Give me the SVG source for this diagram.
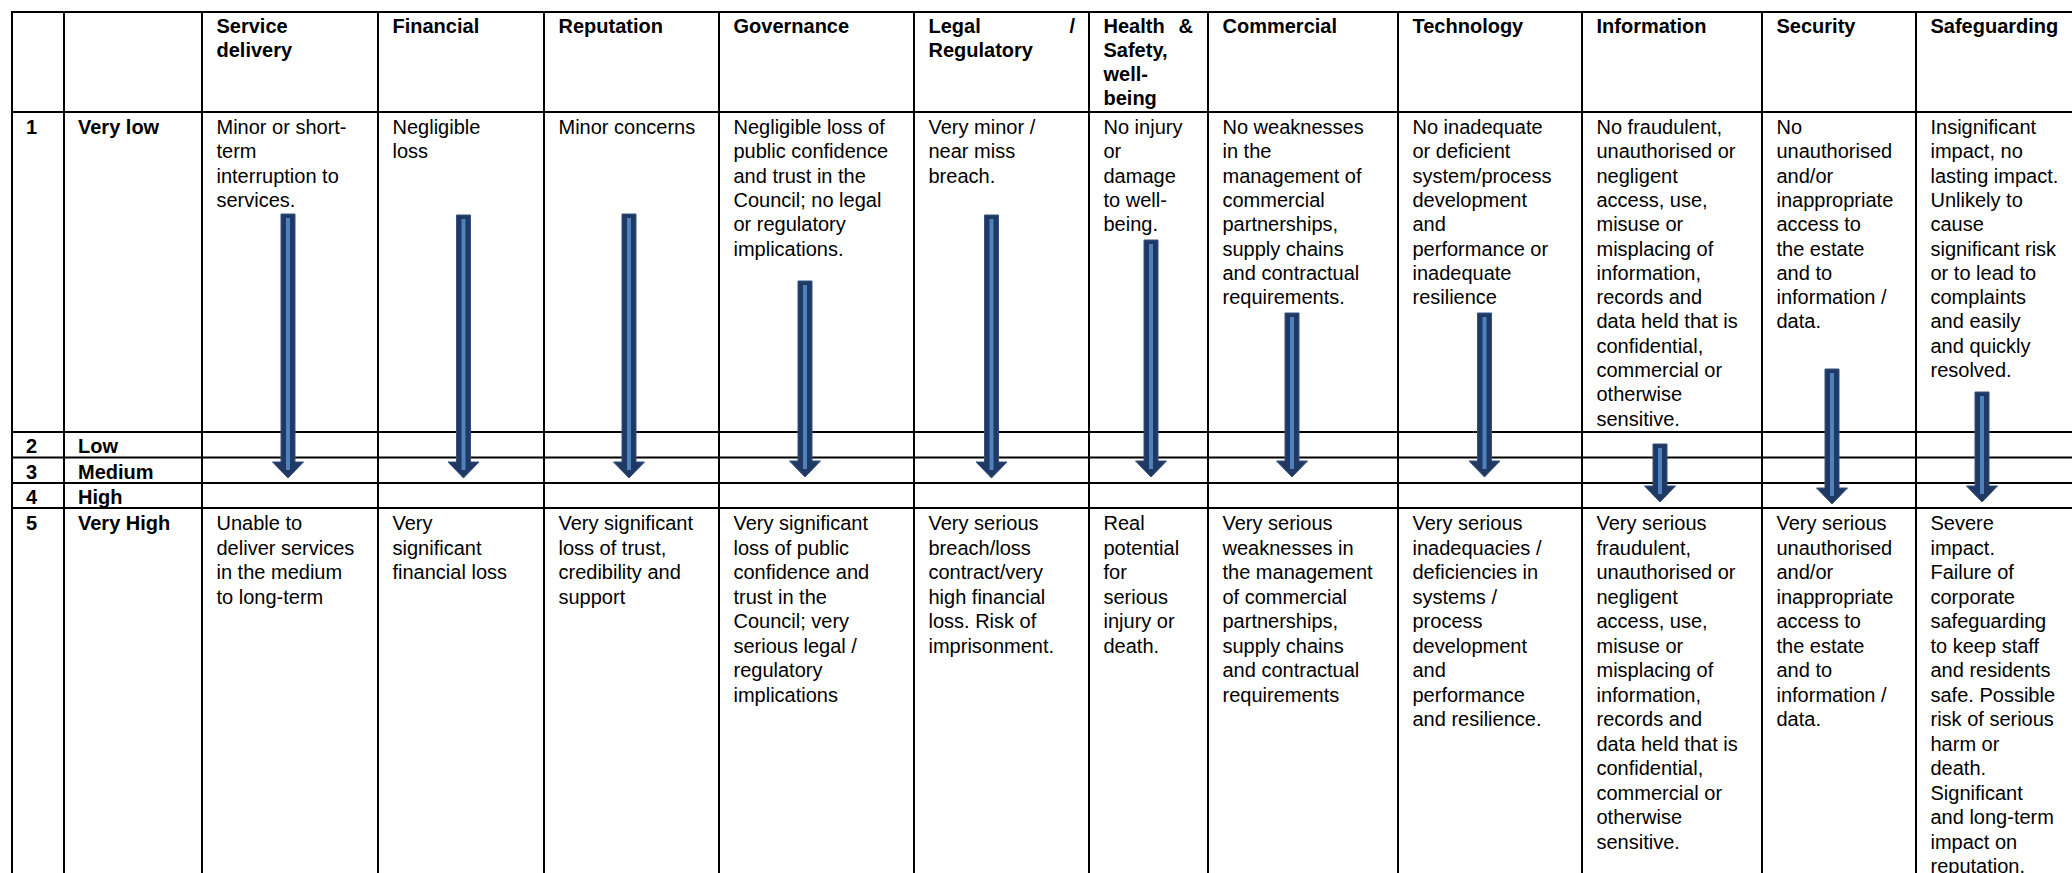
<svg xmlns="http://www.w3.org/2000/svg" width="2072" height="873" viewBox="0 0 2072 873">
<style>
.t{font-family:"Liberation Sans",Arial,sans-serif;font-size:20px;fill:#000}
.h{font-weight:bold}
.g line{stroke:#000;stroke-width:2}
.ao{fill:#1F3864;stroke:#34527e;stroke-width:1}
.ai{fill:#4F81BD}
</style>
<rect width="2072" height="873" fill="#fff"/>
<g id="grid" class="g">
<line x1="11" y1="12" x2="2072" y2="12"/>
<line x1="11" y1="112" x2="2072" y2="112"/>
<line x1="11" y1="432" x2="2072" y2="432"/>
<line x1="11" y1="457.5" x2="2072" y2="457.5"/>
<line x1="11" y1="483" x2="2072" y2="483"/>
<line x1="11" y1="508" x2="2072" y2="508"/>
<line x1="12" y1="11" x2="12" y2="873"/>
<line x1="64" y1="11" x2="64" y2="873"/>
<line x1="202" y1="11" x2="202" y2="873"/>
<line x1="378" y1="11" x2="378" y2="873"/>
<line x1="544" y1="11" x2="544" y2="873"/>
<line x1="719" y1="11" x2="719" y2="873"/>
<line x1="914" y1="11" x2="914" y2="873"/>
<line x1="1089" y1="11" x2="1089" y2="873"/>
<line x1="1208" y1="11" x2="1208" y2="873"/>
<line x1="1398" y1="11" x2="1398" y2="873"/>
<line x1="1582" y1="11" x2="1582" y2="873"/>
<line x1="1762" y1="11" x2="1762" y2="873"/>
<line x1="1916" y1="11" x2="1916" y2="873"/>
</g>
<g id="header" class="t h">
<text x="216.5" y="33"><tspan x="216.5">Service</tspan><tspan x="216.5" dy="24">delivery</tspan></text>
<text x="392.5" y="33">Financial</text>
<text x="558.5" y="33">Reputation</text>
<text x="733.5" y="33">Governance</text>
<text x="928.5" y="33">Legal</text>
<text x="1075" y="33" text-anchor="end">/</text>
<text x="928.5" y="57">Regulatory</text>
<text x="1103.5" y="33">Health</text>
<text x="1193" y="33" text-anchor="end">&amp;</text>
<text x="1103.5" y="57"><tspan x="1103.5">Safety,</tspan><tspan x="1103.5" dy="24">well-</tspan><tspan x="1103.5" dy="24">being</tspan></text>
<text x="1222.5" y="33">Commercial</text>
<text x="1412.5" y="33">Technology</text>
<text x="1596.5" y="33">Information</text>
<text x="1776.5" y="33">Security</text>
<text x="1930.5" y="33">Safeguarding</text>
</g>
<g id="row-labels" class="t h">
<text x="26" y="134">1</text><text x="78" y="134">Very low</text>
<text x="26" y="453">2</text><text x="78" y="453">Low</text>
<text x="26" y="479">3</text><text x="78" y="479">Medium</text>
<text x="26" y="504">4</text><text x="78" y="504">High</text>
<text x="26" y="530">5</text><text x="78" y="530">Very High</text>
</g>
<g id="row1" class="t">
<text id="r1-service" y="134"><tspan x="216.5">Minor or short-</tspan><tspan x="216.5" dy="24.3">term</tspan><tspan x="216.5" dy="24.3">interruption to</tspan><tspan x="216.5" dy="24.3">services.</tspan></text>
<text id="r1-financial" y="134"><tspan x="392.5">Negligible</tspan><tspan x="392.5" dy="24.3">loss</tspan></text>
<text id="r1-reputation" y="134"><tspan x="558.5">Minor concerns</tspan></text>
<text id="r1-governance" y="134"><tspan x="733.5">Negligible loss of</tspan><tspan x="733.5" dy="24.3">public confidence</tspan><tspan x="733.5" dy="24.3">and trust in the</tspan><tspan x="733.5" dy="24.3">Council; no legal</tspan><tspan x="733.5" dy="24.3">or regulatory</tspan><tspan x="733.5" dy="24.3">implications.</tspan></text>
<text id="r1-legal" y="134"><tspan x="928.5">Very minor /</tspan><tspan x="928.5" dy="24.3">near miss</tspan><tspan x="928.5" dy="24.3">breach.</tspan></text>
<text id="r1-health" y="134"><tspan x="1103.5">No injury</tspan><tspan x="1103.5" dy="24.3">or</tspan><tspan x="1103.5" dy="24.3">damage</tspan><tspan x="1103.5" dy="24.3">to well-</tspan><tspan x="1103.5" dy="24.3">being.</tspan></text>
<text id="r1-commercial" y="134"><tspan x="1222.5">No weaknesses</tspan><tspan x="1222.5" dy="24.3">in the</tspan><tspan x="1222.5" dy="24.3">management of</tspan><tspan x="1222.5" dy="24.3">commercial</tspan><tspan x="1222.5" dy="24.3">partnerships,</tspan><tspan x="1222.5" dy="24.3">supply chains</tspan><tspan x="1222.5" dy="24.3">and contractual</tspan><tspan x="1222.5" dy="24.3">requirements.</tspan></text>
<text id="r1-technology" y="134"><tspan x="1412.5">No inadequate</tspan><tspan x="1412.5" dy="24.3">or deficient</tspan><tspan x="1412.5" dy="24.3">system/process</tspan><tspan x="1412.5" dy="24.3">development</tspan><tspan x="1412.5" dy="24.3">and</tspan><tspan x="1412.5" dy="24.3">performance or</tspan><tspan x="1412.5" dy="24.3">inadequate</tspan><tspan x="1412.5" dy="24.3">resilience</tspan></text>
<text id="r1-information" y="134"><tspan x="1596.5">No fraudulent,</tspan><tspan x="1596.5" dy="24.3">unauthorised or</tspan><tspan x="1596.5" dy="24.3">negligent</tspan><tspan x="1596.5" dy="24.3">access, use,</tspan><tspan x="1596.5" dy="24.3">misuse or</tspan><tspan x="1596.5" dy="24.3">misplacing of</tspan><tspan x="1596.5" dy="24.3">information,</tspan><tspan x="1596.5" dy="24.3">records and</tspan><tspan x="1596.5" dy="24.3">data held that is</tspan><tspan x="1596.5" dy="24.3">confidential,</tspan><tspan x="1596.5" dy="24.3">commercial or</tspan><tspan x="1596.5" dy="24.3">otherwise</tspan><tspan x="1596.5" dy="24.3">sensitive.</tspan></text>
<text id="r1-security" y="134"><tspan x="1776.5">No</tspan><tspan x="1776.5" dy="24.3">unauthorised</tspan><tspan x="1776.5" dy="24.3">and/or</tspan><tspan x="1776.5" dy="24.3">inappropriate</tspan><tspan x="1776.5" dy="24.3">access to</tspan><tspan x="1776.5" dy="24.3">the estate</tspan><tspan x="1776.5" dy="24.3">and to</tspan><tspan x="1776.5" dy="24.3">information /</tspan><tspan x="1776.5" dy="24.3">data.</tspan></text>
<text id="r1-safeguarding" y="134"><tspan x="1930.5">Insignificant</tspan><tspan x="1930.5" dy="24.3">impact, no</tspan><tspan x="1930.5" dy="24.3">lasting impact.</tspan><tspan x="1930.5" dy="24.3">Unlikely to</tspan><tspan x="1930.5" dy="24.3">cause</tspan><tspan x="1930.5" dy="24.3">significant risk</tspan><tspan x="1930.5" dy="24.3">or to lead to</tspan><tspan x="1930.5" dy="24.3">complaints</tspan><tspan x="1930.5" dy="24.3">and easily</tspan><tspan x="1930.5" dy="24.3">and quickly</tspan><tspan x="1930.5" dy="24.3">resolved.</tspan></text>
</g>
<g id="row5" class="t">
<text id="r5-service" y="530"><tspan x="216.5">Unable to</tspan><tspan x="216.5" dy="24.5">deliver services</tspan><tspan x="216.5" dy="24.5">in the medium</tspan><tspan x="216.5" dy="24.5">to long-term</tspan></text>
<text id="r5-financial" y="530"><tspan x="392.5">Very</tspan><tspan x="392.5" dy="24.5">significant</tspan><tspan x="392.5" dy="24.5">financial loss</tspan></text>
<text id="r5-reputation" y="530"><tspan x="558.5">Very significant</tspan><tspan x="558.5" dy="24.5">loss of trust,</tspan><tspan x="558.5" dy="24.5">credibility and</tspan><tspan x="558.5" dy="24.5">support</tspan></text>
<text id="r5-governance" y="530"><tspan x="733.5">Very significant</tspan><tspan x="733.5" dy="24.5">loss of public</tspan><tspan x="733.5" dy="24.5">confidence and</tspan><tspan x="733.5" dy="24.5">trust in the</tspan><tspan x="733.5" dy="24.5">Council; very</tspan><tspan x="733.5" dy="24.5">serious legal /</tspan><tspan x="733.5" dy="24.5">regulatory</tspan><tspan x="733.5" dy="24.5">implications</tspan></text>
<text id="r5-legal" y="530"><tspan x="928.5">Very serious</tspan><tspan x="928.5" dy="24.5">breach/loss</tspan><tspan x="928.5" dy="24.5">contract/very</tspan><tspan x="928.5" dy="24.5">high financial</tspan><tspan x="928.5" dy="24.5">loss. Risk of</tspan><tspan x="928.5" dy="24.5">imprisonment.</tspan></text>
<text id="r5-health" y="530"><tspan x="1103.5">Real</tspan><tspan x="1103.5" dy="24.5">potential</tspan><tspan x="1103.5" dy="24.5">for</tspan><tspan x="1103.5" dy="24.5">serious</tspan><tspan x="1103.5" dy="24.5">injury or</tspan><tspan x="1103.5" dy="24.5">death.</tspan></text>
<text id="r5-commercial" y="530"><tspan x="1222.5">Very serious</tspan><tspan x="1222.5" dy="24.5">weaknesses in</tspan><tspan x="1222.5" dy="24.5">the management</tspan><tspan x="1222.5" dy="24.5">of commercial</tspan><tspan x="1222.5" dy="24.5">partnerships,</tspan><tspan x="1222.5" dy="24.5">supply chains</tspan><tspan x="1222.5" dy="24.5">and contractual</tspan><tspan x="1222.5" dy="24.5">requirements</tspan></text>
<text id="r5-technology" y="530"><tspan x="1412.5">Very serious</tspan><tspan x="1412.5" dy="24.5">inadequacies /</tspan><tspan x="1412.5" dy="24.5">deficiencies in</tspan><tspan x="1412.5" dy="24.5">systems /</tspan><tspan x="1412.5" dy="24.5">process</tspan><tspan x="1412.5" dy="24.5">development</tspan><tspan x="1412.5" dy="24.5">and</tspan><tspan x="1412.5" dy="24.5">performance</tspan><tspan x="1412.5" dy="24.5">and resilience.</tspan></text>
<text id="r5-information" y="530"><tspan x="1596.5">Very serious</tspan><tspan x="1596.5" dy="24.5">fraudulent,</tspan><tspan x="1596.5" dy="24.5">unauthorised or</tspan><tspan x="1596.5" dy="24.5">negligent</tspan><tspan x="1596.5" dy="24.5">access, use,</tspan><tspan x="1596.5" dy="24.5">misuse or</tspan><tspan x="1596.5" dy="24.5">misplacing of</tspan><tspan x="1596.5" dy="24.5">information,</tspan><tspan x="1596.5" dy="24.5">records and</tspan><tspan x="1596.5" dy="24.5">data held that is</tspan><tspan x="1596.5" dy="24.5">confidential,</tspan><tspan x="1596.5" dy="24.5">commercial or</tspan><tspan x="1596.5" dy="24.5">otherwise</tspan><tspan x="1596.5" dy="24.5">sensitive.</tspan></text>
<text id="r5-security" y="530"><tspan x="1776.5">Very serious</tspan><tspan x="1776.5" dy="24.5">unauthorised</tspan><tspan x="1776.5" dy="24.5">and/or</tspan><tspan x="1776.5" dy="24.5">inappropriate</tspan><tspan x="1776.5" dy="24.5">access to</tspan><tspan x="1776.5" dy="24.5">the estate</tspan><tspan x="1776.5" dy="24.5">and to</tspan><tspan x="1776.5" dy="24.5">information /</tspan><tspan x="1776.5" dy="24.5">data.</tspan></text>
<text id="r5-safeguarding" y="530"><tspan x="1930.5">Severe</tspan><tspan x="1930.5" dy="24.5">impact.</tspan><tspan x="1930.5" dy="24.5">Failure of</tspan><tspan x="1930.5" dy="24.5">corporate</tspan><tspan x="1930.5" dy="24.5">safeguarding</tspan><tspan x="1930.5" dy="24.5">to keep staff</tspan><tspan x="1930.5" dy="24.5">and residents</tspan><tspan x="1930.5" dy="24.5">safe. Possible</tspan><tspan x="1930.5" dy="24.5">risk of serious</tspan><tspan x="1930.5" dy="24.5">harm or</tspan><tspan x="1930.5" dy="24.5">death.</tspan><tspan x="1930.5" dy="24.5">Significant</tspan><tspan x="1930.5" dy="24.5">and long-term</tspan><tspan x="1930.5" dy="24.5">impact on</tspan><tspan x="1930.5" dy="24.5">reputation.</tspan></text>
</g>
<g id="connectors">
<g id="arrow-service"><polygon class="ao" points="281,214 295,214 295,462 303.5,462 288,478 272.5,462 281,462"/><rect class="ai" x="286" y="218" width="4" height="252"/></g>
<g id="arrow-financial"><polygon class="ao" points="456.5,215 470.5,215 470.5,462 479,462 463.5,478 448,462 456.5,462"/><rect class="ai" x="461.5" y="219" width="4" height="251"/></g>
<g id="arrow-reputation"><polygon class="ao" points="622,214 636,214 636,462 644.5,462 629,478 613.5,462 622,462"/><rect class="ai" x="627" y="218" width="4" height="252"/></g>
<g id="arrow-governance"><polygon class="ao" points="798,281 812,281 812,461 820.5,461 805,477 789.5,461 798,461"/><rect class="ai" x="803" y="285" width="4" height="184"/></g>
<g id="arrow-legal"><polygon class="ao" points="984.5,215 998.5,215 998.5,462 1007,462 991.5,478 976,462 984.5,462"/><rect class="ai" x="989.5" y="219" width="4" height="251"/></g>
<g id="arrow-health"><polygon class="ao" points="1144,240 1158,240 1158,461 1166.5,461 1151,477 1135.5,461 1144,461"/><rect class="ai" x="1149" y="244" width="4" height="225"/></g>
<g id="arrow-commercial"><polygon class="ao" points="1285,313 1299,313 1299,461 1307.5,461 1292,477 1276.5,461 1285,461"/><rect class="ai" x="1290" y="317" width="4" height="152"/></g>
<g id="arrow-technology"><polygon class="ao" points="1477.5,313 1491.5,313 1491.5,461 1500,461 1484.5,477 1469,461 1477.5,461"/><rect class="ai" x="1482.5" y="317" width="4" height="152"/></g>
<g id="arrow-information"><polygon class="ao" points="1653,444 1667,444 1667,486 1675.5,486 1660,502 1644.5,486 1653,486"/><rect class="ai" x="1658" y="448" width="4" height="46"/></g>
<g id="arrow-security"><polygon class="ao" points="1825,369 1839,369 1839,488 1847.5,488 1832,504 1816.5,488 1825,488"/><rect class="ai" x="1830" y="373" width="4" height="123"/></g>
<g id="arrow-safeguarding"><polygon class="ao" points="1975,392 1989,392 1989,486 1997.5,486 1982,502 1966.5,486 1975,486"/><rect class="ai" x="1980" y="396" width="4" height="98"/></g>
</g>
</svg>
